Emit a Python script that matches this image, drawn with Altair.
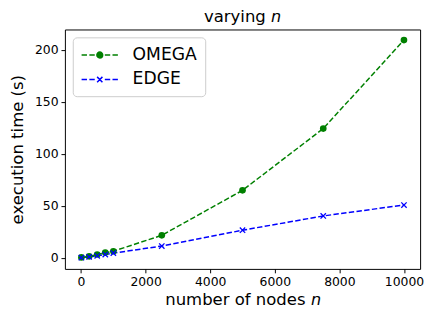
import altair as alt
import pandas as pd

nodes = [10, 250, 500, 750, 1000, 2500, 5000, 7500, 10000]
omega = [0.6, 1.6, 3.4, 5.2, 6.5, 21.8, 65.0, 124.3, 209.3]
edge = [0.3, 1.1, 2.1, 3.3, 4.7, 11.5, 26.7, 40.4, 50.9]
series = ["OMEGA", "EDGE"]
colors = ["#008000", "#0000ff"]
x_ticks = [0, 2000, 4000, 6000, 8000, 10000]
y_ticks = [0, 50, 100, 150, 200]

rows = []
for name, vals in zip(series, [omega, edge]):
    for n, v in zip(nodes, vals):
        rows.append({"n": n, "t": v, "series": name})
df = pd.DataFrame(rows)

FONT = "DejaVu Sans"
xs = alt.Scale(domain=[-500, 10500], nice=False, zero=False)
ys = alt.Scale(domain=[-10.45, 219.45], nice=False, zero=False)

x_enc = alt.X("n:Q", scale=xs, axis=alt.Axis(values=x_ticks, title="number of nodes 𝘯", format="d",
                                              titlePadding=4))
y_enc = alt.Y("t:Q", scale=ys, axis=alt.Axis(values=y_ticks, title="execution time (s)", titlePadding=8))

base = alt.Chart(df).encode(x=x_enc, y=y_enc)

layers = []
for name, col in zip(series, colors):
    sub = base.transform_filter(alt.datum.series == name)
    layers.append(sub.mark_line(strokeDash=[5.5, 2.4], strokeWidth=1.5, color=col))

layers.append(base.transform_filter(alt.datum.series == "OMEGA").mark_point(
    filled=True, size=46, shape="circle", opacity=1, color=colors[0]))
layers.append(base.transform_filter(alt.datum.series == "EDGE").mark_point(
    filled=False, size=30, shape="M-1,-1L1,1M1,-1L-1,1", strokeWidth=1.3, opacity=1, color=colors[1]))

dash_l = "M-1,0H-0.39M-0.12,0H0.49"
dash_r = "M1.63,0H2.24M2.5,0H3.11"
sym_omega = dash_l + "M0.73,0A0.33,0.33 0 1,0 1.39,0A0.33,0.33 0 1,0 0.73,0Z" + dash_r
sym_edge = dash_l + "M0.76,-0.3L1.36,0.3M0.76,0.3L1.36,-0.3" + dash_r

leg = alt.Legend(title=None, orient="none", legendX=8, legendY=8, padding=8,
                 symbolSize=324, symbolStrokeWidth=1.5, labelFontSize=17.5, labelFont=FONT,
                 labelColor="black", labelOffset=33, rowPadding=6, labelLimit=300,
                 fillColor="white", strokeColor="#cccccc", cornerRadius=4, symbolOpacity=1)

layers.append(base.mark_point(opacity=0, filled=True).encode(
    fill=alt.Fill("series:N", scale=alt.Scale(domain=series, range=colors), legend=leg),
    stroke=alt.Stroke("series:N", scale=alt.Scale(domain=series, range=colors), legend=leg),
    shape=alt.Shape("series:N", scale=alt.Scale(domain=series, range=[sym_omega, sym_edge]), legend=leg),
))

chart = alt.layer(*layers).properties(
    width=362, height=244,
    title=alt.TitleParams("varying 𝘯", fontSize=16.8, font=FONT, fontWeight="normal", color="black", offset=4),
    autosize=alt.AutoSizeParams(type="none"),
    padding={"left": 58, "top": 19, "right": 6, "bottom": 40},
).configure_view(stroke="black", strokeWidth=1).configure_axis(
    domain=False, grid=False, tickColor="black", tickSize=4, tickWidth=1,
    labelFont=FONT, labelFontSize=12.6, labelColor="black", labelPadding=3,
    titleFont=FONT, titleFontSize=16.8, titleFontWeight="normal", titleColor="black",
).configure_title(anchor="middle")

chart.save("out.html", embed_options={"renderer": "svg", "actions": False})
